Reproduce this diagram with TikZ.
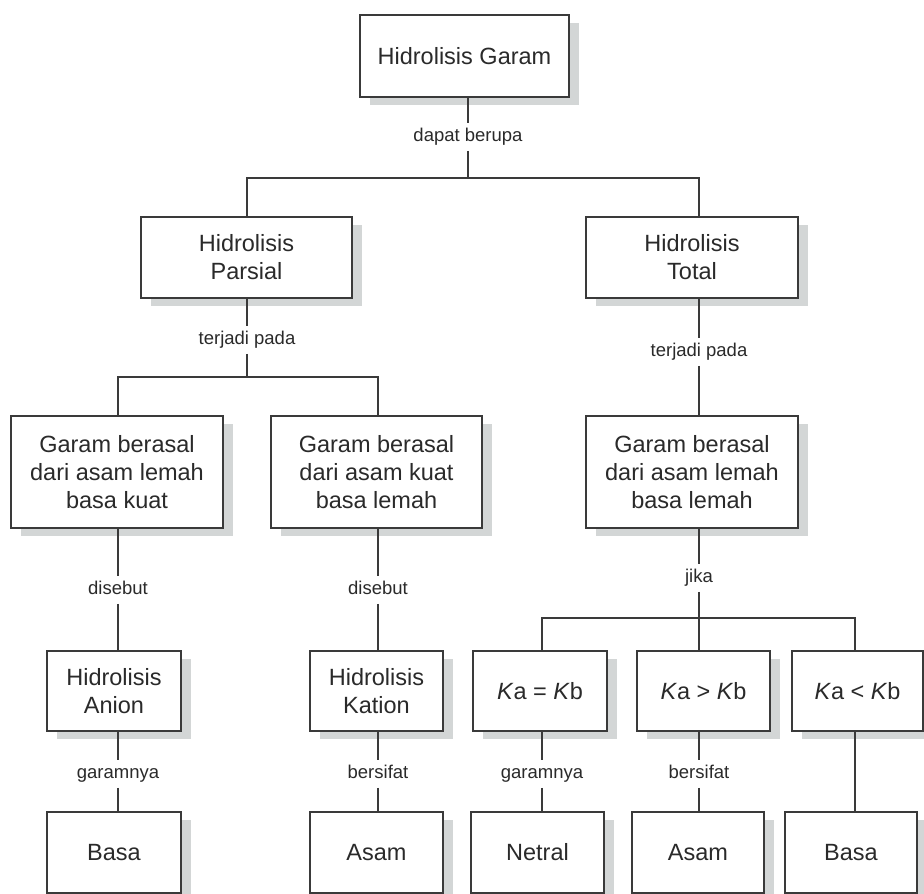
\documentclass[tikz,border=0pt]{standalone}
\usepackage{fontspec}
\setmainfont{Liberation Sans}
\usetikzlibrary{shadows}
\definecolor{linec}{HTML}{3A3A3A}
\definecolor{txtc}{HTML}{2A2A2A}
\definecolor{shadc}{HTML}{D3D6D6}
\begin{document}
\begin{tikzpicture}[x=1pt,y=-1pt,
  box/.style={draw=linec, line width=1.5pt, fill=white, text=txtc, align=center,
    inner sep=0pt, font=\fontsize{23.5}{28}\selectfont,
    drop shadow={shadow xshift=9.5pt, shadow yshift=-8pt, fill=shadc, opacity=1}},
  wh/.style 2 args={minimum width=#1, minimum height=#2},
  lab/.style={fill=white, text=txtc, font=\fontsize{18.5}{22}\selectfont,
    inner xsep=2pt, inner ysep=5pt, text height=13.5pt, text depth=4pt},
  conn/.style={draw=linec, line width=1.4pt}]
\useasboundingbox (0,0) rectangle (924,894);
\clip (0,0) rectangle (924,894);

% boxes
\node[box, wh={209pt}{82pt}] (top) at (464.5,56) {Hidrolisis Garam};
\node[box, wh={211pt}{81pt}] (parsial) at (246.5,257.5) {Hidrolisis\\Parsial};
\node[box, wh={212pt}{81pt}] (total) at (692,257.5) {Hidrolisis\\Total};
\node[box, wh={212pt}{112pt}] (g1) at (117,472) {Garam berasal\\dari asam lemah\\basa kuat};
\node[box, wh={211pt}{112pt}] (g2) at (376.5,472) {Garam berasal\\dari asam kuat\\basa lemah};
\node[box, wh={212pt}{112pt}] (g3) at (692,472) {Garam berasal\\dari asam lemah\\basa lemah};
\node[box, wh={134pt}{80pt}] (anion) at (114,691) {Hidrolisis\\Anion};
\node[box, wh={133pt}{80pt}] (kation) at (376.5,691) {Hidrolisis\\Kation};
\node[box, wh={134pt}{80pt}] (k1) at (540,691) {\textit{K}a = \textit{K}b};
\node[box, wh={133pt}{80pt}] (k2) at (703.5,691) {\textit{K}a > \textit{K}b};
\node[box, wh={131pt}{80pt}] (k3) at (857.5,691) {\textit{K}a < \textit{K}b};
\node[box, wh={134pt}{81pt}] (basa1) at (114,852.5) {Basa};
\node[box, wh={133pt}{81pt}] (asam1) at (376.5,852.5) {Asam};
\node[box, wh={133pt}{81pt}] (netral) at (537.5,852.5) {Netral};
\node[box, wh={132pt}{81pt}] (asam2) at (698,852.5) {Asam};
\node[box, wh={132pt}{81pt}] (basa2) at (851,852.5) {Basa};

% level 1
\node[lab] (l1) at (468,137) {dapat berupa};
\coordinate (s1) at (468,178);
\coordinate (cp) at (247,178);
\coordinate (ct) at (699,178);
\draw[conn] (top.south -| l1) -- (l1) -- (s1);
\draw[conn] (cp |- parsial.north) -- (cp) -- (ct) -- (ct |- total.north);

% parsial
\node[lab] (l2) at (247,340) {terjadi pada};
\coordinate (s2) at (247,377);
\coordinate (c21) at (118,377);
\coordinate (c22) at (378,377);
\draw[conn] (parsial.south -| l2) -- (l2) -- (s2);
\draw[conn] (c21 |- g1.north) -- (c21) -- (c22) -- (c22 |- g2.north);

% total
\node[lab] (l3) at (699,352) {terjadi pada};
\draw[conn] (total.south -| l3) -- (l3) -- (l3 |- g3.north);

% g1, g2
\node[lab] (l4) at (118,590) {disebut};
\draw[conn] (g1.south -| l4) -- (l4) -- (l4 |- anion.north);
\node[lab] (l5) at (378,590) {disebut};
\draw[conn] (g2.south -| l5) -- (l5) -- (l5 |- kation.north);

% anion, kation
\node[lab] (l6) at (118,774) {garamnya};
\draw[conn] (anion.south -| l6) -- (l6) -- (l6 |- basa1.north);
\node[lab] (l7) at (378,774) {bersifat};
\draw[conn] (kation.south -| l7) -- (l7) -- (l7 |- asam1.north);

% g3
\node[lab] (l8) at (699,578) {jika};
\coordinate (s3) at (699,618);
\coordinate (c31) at (542,618);
\coordinate (c33) at (855,618);
\draw[conn] (g3.south -| l8) -- (l8) -- (s3);
\draw[conn] (c31 |- k1.north) -- (c31) -- (c33) -- (c33 |- k3.north);
\draw[conn] (s3) -- (s3 |- k2.north);

% k boxes
\node[lab] (l9) at (542,774) {garamnya};
\draw[conn] (k1.south -| l9) -- (l9) -- (l9 |- netral.north);
\node[lab] (l10) at (699,774) {bersifat};
\draw[conn] (k2.south -| l10) -- (l10) -- (l10 |- asam2.north);
\draw[conn] (c33 |- k3.south) -- (c33 |- basa2.north);
\end{tikzpicture}
\end{document}
